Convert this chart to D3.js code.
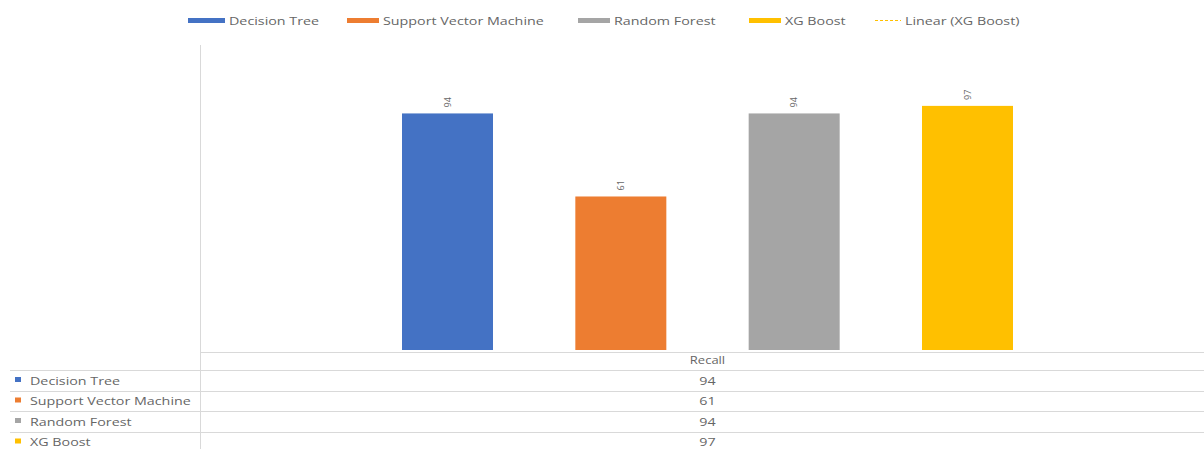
<!DOCTYPE html>
<html>
<head>
<meta charset="utf-8">
<script src="https://cdn.jsdelivr.net/npm/d3@7"></script>
<style>
  html, body { margin: 0; padding: 0; background: #fff; }
  svg { display: block; }
  text { font-family: "Open Sans", "Liberation Sans", sans-serif; }
</style>
</head>
<body>
<svg id="chart" width="1204" height="449"></svg>
<script>
// Chart data
const categories = ["Recall"];
const seriesNames = ["Decision Tree", "Support Vector Machine", "Random Forest", "XG Boost"];
const recallValues = [94, 61, 94, 97];
const seriesColors = ["#4472C4", "#ED7D31", "#A5A5A5", "#FFC000"];
const trendLabel = "Linear (XG Boost)";

const W = 1204, H = 449;
const svg = d3.select("#chart");
const stretch = 1.3; // wide text face

// Plot area
const plot = { left: 200, right: 1215, top: 48, bottom: 350 };

const x0 = d3.scaleBand().domain(categories).range([plot.left, plot.right]);
const x1 = d3.scaleBand().domain(seriesNames)
  .range([x0("Recall") + 202, x0("Recall") + x0.bandwidth() - 202])
  .paddingInner(0.475);
const y = d3.scaleLinear().domain([0, 120]).range([plot.bottom, plot.top]);

const grid = "#d9d9d9";
const textGray = "#666666";

// Helper: horizontally stretched text
function wideText(g, x, yPos, size, anchor, str) {
  return g.append("text")
    .attr("transform", `translate(${x},${yPos}) scale(${stretch},1)`)
    .attr("text-anchor", anchor)
    .attr("font-size", size)
    .attr("fill", textGray)
    .text(str);
}

// Left plot border
svg.append("line")
  .attr("x1", plot.left + 0.5).attr("x2", plot.left + 0.5)
  .attr("y1", 45).attr("y2", H)
  .attr("stroke", grid).attr("stroke-width", 1);

// Bars
const rows = seriesNames.map((s, i) => ({ name: s, value: recallValues[i], color: seriesColors[i] }));

svg.append("g").selectAll("rect").data(rows).join("rect")
  .attr("x", d => x1(d.name))
  .attr("y", d => y(d.value))
  .attr("width", x1.bandwidth())
  .attr("height", d => y(0) - y(d.value))
  .attr("fill", d => d.color);

// Rotated value labels above each bar
svg.append("g").selectAll("text").data(rows).join("text")
  .attr("transform", d => `translate(${x1(d.name) + x1.bandwidth() / 2 + 3},${y(d.value) - 6}) rotate(-90)`)
  .attr("text-anchor", "start")
  .attr("font-size", 9)
  .attr("fill", textGray)
  .text(d => d.value);

// Legend across the top
const legendItems = [
  { label: seriesNames[0], color: seriesColors[0], x: 188, w: 37, type: "bar" },
  { label: seriesNames[1], color: seriesColors[1], x: 347, w: 32, type: "bar" },
  { label: seriesNames[2], color: seriesColors[2], x: 578, w: 32, type: "bar" },
  { label: seriesNames[3], color: seriesColors[3], x: 749, w: 32, type: "bar" },
  { label: trendLabel, color: seriesColors[3], x: 875, w: 26, type: "line" }
];
const lg = svg.append("g");
legendItems.forEach(it => {
  if (it.type === "bar") {
    lg.append("rect").attr("x", it.x).attr("y", 18).attr("width", it.w).attr("height", 5).attr("fill", it.color);
  } else {
    lg.append("line").attr("x1", it.x).attr("x2", it.x + it.w).attr("y1", 20.5).attr("y2", 20.5)
      .attr("stroke", it.color).attr("stroke-width", 1.2).attr("stroke-dasharray", "3,2");
  }
  wideText(lg, it.x + it.w + 4, 24.5, 11, "start", it.label);
});

// Data table below the plot
const tableTop = 352;
const rowH = 20.5;
svg.append("line").attr("x1", plot.left).attr("x2", W).attr("y1", tableTop + 0.5).attr("y2", tableTop + 0.5)
  .attr("stroke", grid);
const colX = x0("Recall") + x0.bandwidth() / 2;
wideText(svg, colX, tableTop + 12, 10, "middle", categories[0]);

const firstRow = tableTop + 18;
for (let i = 0; i <= rows.length; i++) {
  const ly = Math.round(firstRow + i * rowH) + 0.5;
  if (ly < H) {
    svg.append("line").attr("x1", 10).attr("x2", W).attr("y1", ly).attr("y2", ly).attr("stroke", grid);
  }
}

const tr = svg.append("g").selectAll("g").data(rows).join("g")
  .attr("transform", (d, i) => `translate(0,${firstRow + i * rowH})`);
tr.append("rect").attr("x", 15).attr("y", 7).attr("width", 6).attr("height", 5).attr("fill", d => d.color);
tr.each(function (d) {
  const g = d3.select(this);
  wideText(g, 30, 14.5, 11, "start", d.name);
  wideText(g, colX, 14.5, 11, "middle", d.value);
});
</script>
</body>
</html>
